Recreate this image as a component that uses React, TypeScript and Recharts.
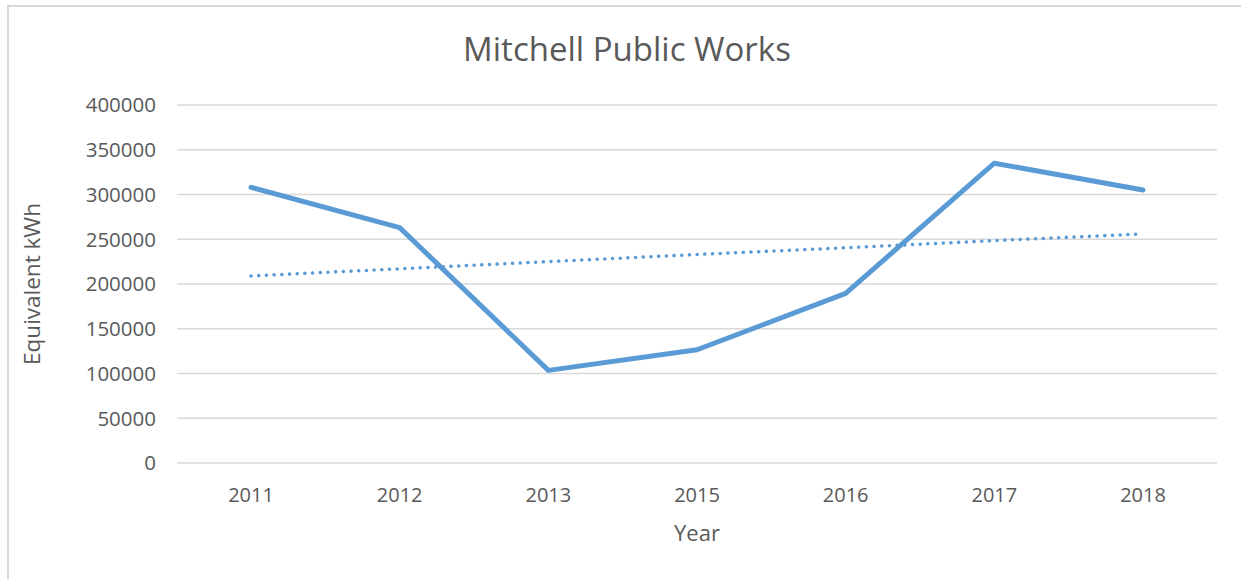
import { CartesianGrid, Label, Line, LineChart, XAxis, YAxis } from "recharts";

const years = ["2011", "2012", "2013", "2015", "2016", "2017", "2018"];
const kwh = [308000, 263000, 103500, 126500, 189500, 335000, 305000];
// linear trendline
const trend = [209000, 217000, 225000, 233000, 240500, 248500, 256000];
const yTicks = [0, 50000, 100000, 150000, 200000, 250000, 300000, 350000, 400000];

const data = years.map((year, i) => ({ year, kwh: kwh[i], trend: trend[i] }));

const font = "'Open Sans', sans-serif";
const textColor = "#595959";

export default function App() {
  return (
    <div
      style={{
        position: "absolute",
        left: 0,
        top: 0,
        width: 1241,
        height: 579,
        background: "#fff",
        fontFamily: font,
      }}
    >
      <div
        style={{
          position: "absolute",
          left: 7,
          top: 5,
          right: 0,
          bottom: 0,
          borderLeft: "2px solid #d9d9d9",
          borderTop: "2px solid #d9d9d9",
        }}
      />
      <div
        style={{
          position: "absolute",
          left: 0,
          width: 1254,
          top: 26,
          textAlign: "center",
          fontSize: 33,
          color: textColor,
        }}
      >
        Mitchell Public Works
      </div>
      <LineChart
        width={1241}
        height={579}
        data={data}
        margin={{ top: 105, right: 24, left: 17, bottom: 36 }}
        style={{ position: "absolute", left: 0, top: 0 }}
      >
        <CartesianGrid vertical={false} stroke="#d9d9d9" strokeWidth={1.5} />
        <XAxis
          dataKey="year"
          axisLine={false}
          tickLine={false}
          tickSize={0}
          tickMargin={25}
          height={80}
          padding={{ left: 74, right: 74 }}
          tick={{ fill: textColor, fontSize: 20, fontFamily: font }}
        >
          <Label
            value="Year"
            position="insideBottom"
            offset={2}
            style={{ fill: textColor, fontSize: 22, fontFamily: font }}
          />
        </XAxis>
        <YAxis
          domain={[0, 400000]}
          ticks={yTicks}
          axisLine={false}
          tickLine={false}
          tickSize={0}
          tickMargin={21}
          width={160}
          tick={{ fill: textColor, fontSize: 20.5, fontFamily: font }}
        >
          <Label
            value="Equivalent kWh"
            angle={-90}
            position="insideLeft"
            offset={15}
            style={{ fill: textColor, fontSize: 22.5, fontFamily: font, textAnchor: "middle" }}
          />
        </YAxis>
        <Line
          type="linear"
          dataKey="kwh"
          stroke="#5b9bd5"
          strokeWidth={5}
          strokeLinecap="round"
          strokeLinejoin="round"
          dot={false}
          activeDot={false}
          isAnimationActive={false}
        />
        <Line
          type="linear"
          dataKey="trend"
          stroke="#5b9bd5"
          strokeWidth={3.5}
          strokeLinecap="round"
          strokeDasharray="0.1 7.6"
          dot={false}
          activeDot={false}
          isAnimationActive={false}
        />
      </LineChart>
    </div>
  );
}
